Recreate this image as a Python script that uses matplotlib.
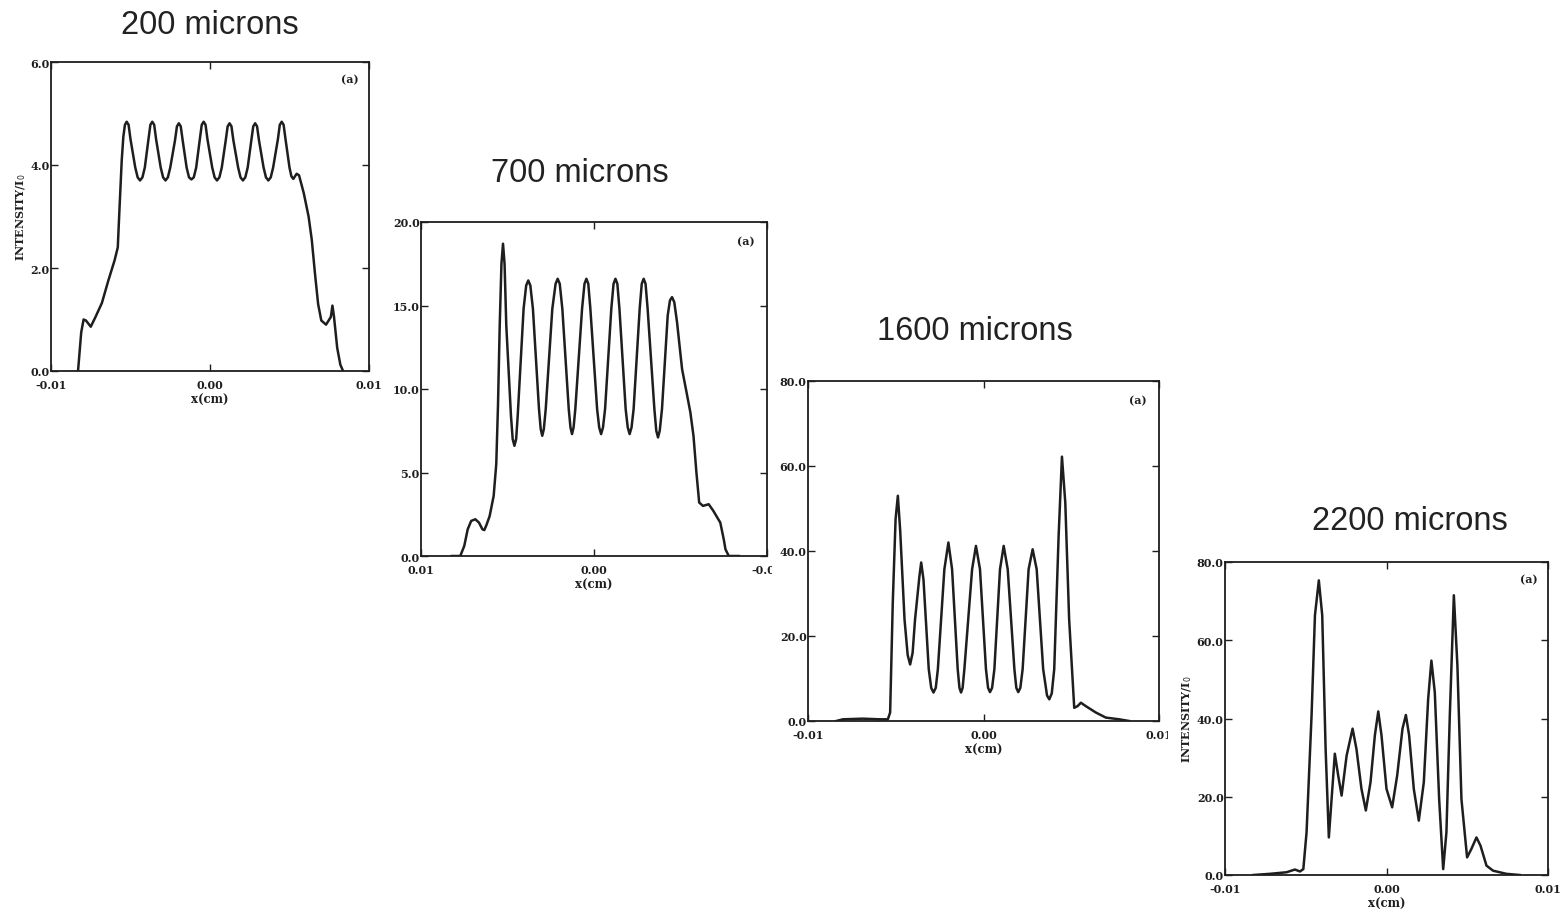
import matplotlib
matplotlib.use("Agg")
import matplotlib.pyplot as plt
from matplotlib.patches import Rectangle
from matplotlib.ticker import FormatStrFormatter

plt.rcParams['axes.unicode_minus'] = False

# panel titles (propagation distance)
titles = ["200 microns", "700 microns", "1600 microns", "2200 microns"]

# (x in cm, intensity / I0)
pts_200 = [
    (-0.0083, 0.0), (-0.0081, 0.75), (-0.00795, 1.00), (-0.0078, 0.98), (-0.0075, 0.86),
    (-0.0072, 1.05), (-0.0068, 1.32), (-0.0064, 1.75), (-0.0060, 2.15), (-0.0058, 2.40),
    (-0.0057, 3.10), (-0.00555, 4.10), (-0.00545, 4.55), (-0.00535, 4.78), (-0.00524, 4.84),
    (-0.00512, 4.78), (-0.0050, 4.50), (-0.0047, 3.95), (-0.00455, 3.76), (-0.0044, 3.70),
    (-0.00425, 3.76), (-0.0041, 3.95), (-0.00387, 4.50), (-0.00375, 4.78), (-0.00363, 4.84),
    (-0.00351, 4.78), (-0.00339, 4.50), (-0.0031, 3.95), (-0.00295, 3.76), (-0.0028, 3.70),
    (-0.00265, 3.76), (-0.0025, 3.95), (-0.0022, 4.48), (-0.00208, 4.75), (-0.00196, 4.81),
    (-0.00184, 4.75), (-0.00172, 4.48), (-0.00147, 3.95), (-0.00132, 3.76), (-0.00117, 3.72),
    (-0.00102, 3.76), (-0.00087, 3.95), (-0.00064, 4.50), (-0.00052, 4.78), (-0.0004, 4.84),
    (-0.00028, 4.78), (-0.00016, 4.50), (0.00014, 3.95), (0.00029, 3.76), (0.00044, 3.70),
    (0.00059, 3.76), (0.00074, 3.95), (0.00099, 4.48), (0.00111, 4.75), (0.00123, 4.81),
    (0.00135, 4.75), (0.00147, 4.48), (0.00177, 3.95), (0.00192, 3.76), (0.00207, 3.70),
    (0.00222, 3.76), (0.00237, 3.95), (0.0026, 4.48), (0.00272, 4.75), (0.00284, 4.81),
    (0.00296, 4.75), (0.00308, 4.48), (0.00337, 3.95), (0.00352, 3.76), (0.00367, 3.70),
    (0.00382, 3.76), (0.00397, 3.95), (0.00427, 4.50), (0.00439, 4.78), (0.00451, 4.84),
    (0.00463, 4.78), (0.00475, 4.50), (0.0050, 3.95), (0.00512, 3.78), (0.00524, 3.73),
    (0.00545, 3.83), (0.0056, 3.80), (0.0059, 3.45), (0.0062, 3.00), (0.0064, 2.55),
    (0.0066, 1.90), (0.0068, 1.30), (0.0070, 0.98), (0.0073, 0.90), (0.0076, 1.05),
    (0.0077, 1.27), (0.0078, 1.05), (0.0080, 0.45), (0.0082, 0.12), (0.00837, 0.0),
]

# 700 microns: the original x axis runs from +0.01 to -0.01
pts_700 = [
    (0.00821, 0.0), (0.00773, 0.0), (0.0075, 0.6), (0.0073, 1.6), (0.0071, 2.1),
    (0.00686, 2.2), (0.00665, 2.0), (0.00645, 1.6), (0.00634, 1.55), (0.0062, 1.9),
    (0.00603, 2.4), (0.0058, 3.6), (0.00565, 5.5), (0.00555, 9.0), (0.00545, 13.8),
    (0.00535, 17.5), (0.00526, 18.7), (0.00517, 17.5), (0.00507, 13.8), (0.0048, 8.4),
    (0.0047, 7.0), (0.0046, 6.6), (0.0045, 7.0), (0.00441, 8.4), (0.00407, 14.8),
    (0.00392, 16.2), (0.0038, 16.5), (0.00368, 16.2), (0.00353, 14.8), (0.00318, 8.8),
    (0.00308, 7.6), (0.00299, 7.2), (0.0029, 7.6), (0.00279, 8.8), (0.00241, 14.8),
    (0.00222, 16.3), (0.0021, 16.6), (0.00198, 16.3), (0.00183, 14.8), (0.00146, 8.8),
    (0.00136, 7.7), (0.00127, 7.3), (0.00118, 7.7), (0.00108, 8.8), (0.00069, 14.8),
    (0.00055, 16.3), (0.00044, 16.6), (0.00033, 16.3), (0.00021, 14.8), (-0.00018, 8.8),
    (-0.0003, 7.7), (-0.00041, 7.3), (-0.00052, 7.7), (-0.00064, 8.8), (-0.0010, 14.8),
    (-0.00113, 16.3), (-0.00124, 16.6), (-0.00135, 16.3), (-0.00147, 14.8), (-0.00183, 8.8),
    (-0.00195, 7.7), (-0.00206, 7.3), (-0.00217, 7.7), (-0.00229, 8.8), (-0.00264, 14.8),
    (-0.00276, 16.3), (-0.00287, 16.6), (-0.00298, 16.3), (-0.0031, 14.8), (-0.00349, 8.8),
    (-0.0036, 7.5), (-0.0037, 7.1), (-0.0038, 7.5), (-0.00393, 8.8), (-0.00426, 14.4),
    (-0.00439, 15.3), (-0.00451, 15.5), (-0.00464, 15.2), (-0.0048, 14.0), (-0.00509, 11.2),
    (-0.00535, 9.8), (-0.00557, 8.6), (-0.00575, 7.2), (-0.00592, 5.0), (-0.00608, 3.2),
    (-0.0063, 3.0), (-0.00663, 3.1), (-0.0069, 2.7), (-0.0073, 2.0), (-0.0075, 1.0),
    (-0.0076, 0.4), (-0.00779, 0.0), (-0.00837, 0.0),
]

pts_1600 = [
    (-0.00839, 0.0), (-0.00801, 0.4), (-0.00687, 0.55), (-0.00592, 0.4), (-0.00545, 0.4),
    (-0.00532, 2.0), (-0.00517, 27.8), (-0.00501, 47.5), (-0.00488, 53.0), (-0.00475, 45.0),
    (-0.0045, 23.9), (-0.00432, 15.5), (-0.00418, 13.3), (-0.00404, 16.0), (-0.0039, 23.9),
    (-0.00365, 34.1), (-0.00355, 37.3), (-0.00342, 33.3), (-0.00312, 12.2), (-0.00298, 7.8),
    (-0.00285, 6.7), (-0.00272, 7.8), (-0.0026, 12.2), (-0.00223, 35.7), (-0.0020, 42.0),
    (-0.00179, 35.7), (-0.00147, 12.2), (-0.00137, 7.8), (-0.00128, 6.7), (-0.00119, 7.8),
    (-0.00109, 12.2), (-0.00065, 35.7), (-0.00043, 41.2), (-0.0002, 35.7), (0.00014, 12.2),
    (0.00026, 7.8), (0.00037, 6.8), (0.00049, 7.8), (0.00062, 12.2), (0.00094, 35.7),
    (0.00115, 41.2), (0.00138, 35.7), (0.00176, 12.2), (0.00187, 7.8), (0.00198, 6.8),
    (0.0021, 7.8), (0.00223, 12.2), (0.00257, 35.7), (0.0028, 40.4), (0.00303, 35.7),
    (0.0034, 12.2), (0.00362, 6.0), (0.00375, 5.1), (0.00389, 6.5), (0.00403, 12.2),
    (0.00428, 43.5), (0.00447, 62.2), (0.00466, 51.4), (0.00488, 23.9), (0.00517, 3.1),
    (0.00536, 3.5), (0.00555, 4.3), (0.00583, 3.5), (0.0064, 2.0), (0.00697, 0.8),
    (0.00773, 0.4), (0.0083, 0.0),
]

pts_2200 = [
    (-0.00825, 0.0), (-0.00722, 0.3), (-0.00619, 0.7), (-0.00567, 1.4), (-0.00536, 0.9),
    (-0.00515, 1.5), (-0.00495, 10.9), (-0.00464, 40.8), (-0.00443, 66.4), (-0.00419, 75.3),
    (-0.00398, 66.4), (-0.00377, 32.2), (-0.00357, 9.6), (-0.0034, 19.4), (-0.0032, 31.0),
    (-0.00299, 25.4), (-0.00278, 20.3), (-0.00247, 30.5), (-0.0021, 37.4), (-0.00186, 32.2),
    (-0.00155, 22.0), (-0.00128, 16.5), (-0.00099, 23.7), (-0.00072, 35.7), (-0.00051, 41.8),
    (-0.00031, 35.7), (0.0, 22.0), (0.00035, 17.3), (0.00066, 25.4), (0.00099, 37.4),
    (0.0012, 40.9), (0.0014, 35.7), (0.00169, 22.0), (0.002, 13.9), (0.00231, 23.7),
    (0.00258, 45.0), (0.00278, 54.8), (0.00299, 46.7), (0.00326, 19.4), (0.00351, 1.5),
    (0.00371, 10.9), (0.00392, 40.8), (0.00417, 71.5), (0.00439, 53.6), (0.00464, 19.4),
    (0.00499, 4.5), (0.00526, 6.7), (0.00557, 9.6), (0.00582, 7.5), (0.00619, 2.4),
    (0.0066, 1.1), (0.00742, 0.3), (0.00825, 0.0),
]

ymax = [6.0, 20.0, 80.0, 80.0]
ystep = [2.0, 5.0, 20.0, 20.0]
xlims = [(-0.01, 0.01), (0.01, -0.01), (-0.01, 0.01), (-0.01, 0.01)]
show_ylabel = [True, False, False, True]

curves = [pts_200, pts_700, pts_1600, pts_2200]

W, H = 1560, 912
# axes boxes in pixels: left, top, right, bottom
boxes = [(51, 63, 369, 372), (421, 223, 767, 557), (808, 382, 1159, 722), (1225, 563, 1548, 876)]
title_pos = [(210, 25), (580, 173), (975, 332), (1410, 521)]
# left edge of each scanned panel (later panels cover the earlier ones)
cover_left = [0, 382, 772, 1168]

ink = '#1e1e1e'
serif = 'DejaVu Serif'

fig = plt.figure(figsize=(W / 100, H / 100), dpi=100)

for i in range(4):
    l, t, r, b = boxes[i]
    if i > 0:
        cl = cover_left[i]
        fig.add_artist(Rectangle((cl / W, 0), 1 - cl / W, 1 - (t - 70) / H,
                                 transform=fig.transFigure, facecolor='white',
                                 edgecolor='none', zorder=2 * i - 0.5))
    ax = fig.add_axes([l / W, 1 - b / H, (r - l) / W, (b - t) / H])
    ax.set_zorder(2 * i)
    xv = [p[0] for p in curves[i]]
    yv = [p[1] for p in curves[i]]
    ax.plot(xv, yv, color=ink, lw=1.8, solid_joinstyle='round')
    ax.set_xlim(*xlims[i])
    ax.set_ylim(0, ymax[i])
    ax.set_xticks([-0.01, 0.0, 0.01])
    n = int(round(ymax[i] / ystep[i]))
    ax.set_yticks([k * ystep[i] for k in range(n + 1)])
    ax.xaxis.set_major_formatter(FormatStrFormatter('%.2f'))
    ax.yaxis.set_major_formatter(FormatStrFormatter('%.1f'))
    ax.tick_params(direction='in', top=True, right=True, length=5, width=1.0,
                   color=ink, labelcolor=ink, labelsize=8)
    ax.tick_params(axis='x', pad=6)
    ax.tick_params(axis='y', pad=1)
    for lab in ax.get_xticklabels() + ax.get_yticklabels():
        lab.set_family(serif)
        lab.set_fontweight('bold')
    for sp in ax.spines.values():
        sp.set_color(ink)
        sp.set_linewidth(1.3)
    ax.set_xlabel('x(cm)', family=serif, fontsize=8.5, color=ink, labelpad=2,
                  fontweight='bold')
    if show_ylabel[i]:
        ax.set_ylabel('INTENSITY/I$_0$', family=serif, fontsize=8, color=ink,
                      labelpad=2, fontweight='bold')
    ax.text(0.94, 0.945, '(a)', transform=ax.transAxes, ha='center', va='center',
            family=serif, fontsize=8, color=ink, fontweight='bold')
    tx, ty = title_pos[i]
    fig.text(tx / W, 1 - ty / H, titles[i], ha='center', va='center',
             family='Liberation Sans', fontsize=23.5, color='#222222', zorder=2 * i + 1)

fig.savefig('out.png', dpi=100, facecolor='white')
